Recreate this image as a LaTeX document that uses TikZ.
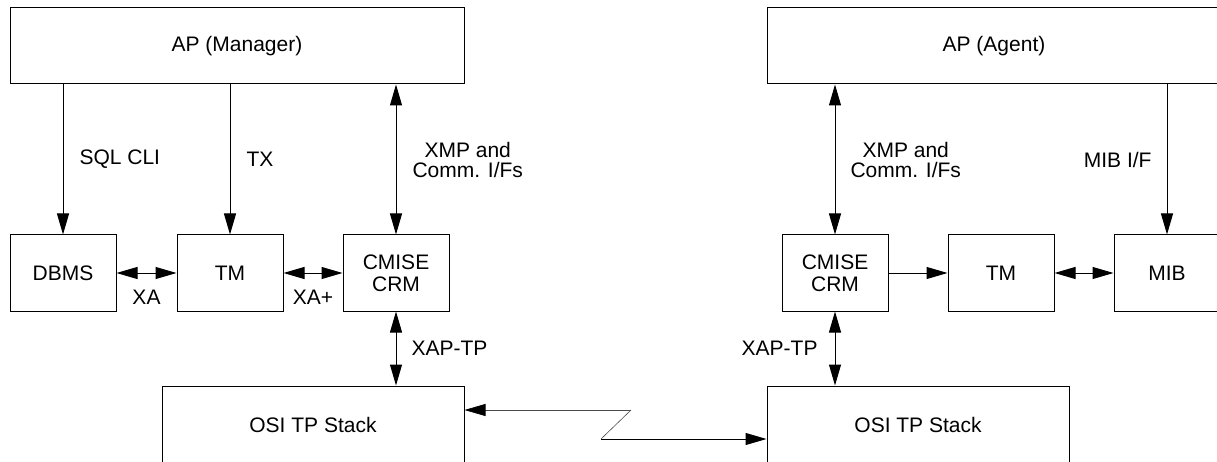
\documentclass[tikz,border=0pt]{standalone}
\usepackage{fontspec}
\setmainfont{Liberation Sans}
\usetikzlibrary{arrows.meta,positioning}

\begin{document}
\begin{tikzpicture}[x=1pt, y=-1pt,
    box/.style={draw, line width=1pt, minimum height=76pt, inner sep=0pt,
        align=center, font=\fontsize{21}{22}\selectfont},
    lbl/.style={inner sep=0pt, align=center, font=\fontsize{21}{20}\selectfont},
    link/.style={line width=1pt, -{Triangle[length=21pt,width=12pt]}},
    both/.style={line width=1pt,
        {Triangle[length=21pt,width=12pt]}-{Triangle[length=21pt,width=12pt]}}]
    % Page frame
    \path[use as bounding box, clip] (0,0) rectangle (1217,462);

    % Application processes
    \node[box, minimum width=454pt] (apm) at (237,46) {AP (Manager)};
    \node[box, minimum width=454pt] (apa) at (994,46) {AP (Agent)};

    % Manager side
    \node[box, minimum width=106pt] (dbms) at (63,273) {DBMS};
    \node[box, minimum width=106pt] (tml) at (230,273) {TM};
    \node[box, minimum width=106pt] (cmisel) at (396,273) {CMISE\\CRM};

    % Agent side
    \node[box, minimum width=106pt] (cmiser) at (835,273) {CMISE\\CRM};
    \node[box, minimum width=106pt] (tmr) at (1001,273) {TM};
    \node[box, minimum width=106pt] (mib) at (1167,273) {MIB};

    % Stacks
    \node[box, minimum width=302pt, minimum height=78pt] (osil) at (313,425) {OSI TP Stack};
    \node[box, minimum width=302pt, minimum height=78pt] (osir) at (918,425) {OSI TP Stack};

    % Interfaces from the APs
    \draw[link] (dbms.north |- apm.south) -- (dbms.north)
        node[lbl, midway, anchor=west, xshift=16pt] {SQL CLI};
    \draw[link] (tml.north |- apm.south) -- (tml.north)
        node[lbl, midway, anchor=west, xshift=16pt] {TX};
    \draw[both] (cmisel.north |- apm.south) -- (cmisel.north)
        node[lbl, midway, anchor=west, xshift=16pt] {XMP and\\Comm. I/Fs};
    \draw[both] (cmiser.north |- apa.south) -- (cmiser.north)
        node[lbl, midway, anchor=west, xshift=15pt] {XMP and\\Comm. I/Fs};
    \draw[link] (mib.north |- apa.south) -- (mib.north)
        node[lbl, midway, anchor=east, xshift=-15pt] {MIB I/F};

    % Horizontal interfaces
    \draw[both] (dbms) -- (tml) node[lbl, midway, anchor=north, yshift=-17pt] {XA};
    \draw[both] (tml) -- (cmisel) node[lbl, midway, anchor=north, yshift=-17pt] {XA+};
    \draw[link] (cmiser) -- (tmr);
    \draw[both] (tmr) -- (mib);

    % XAP-TP
    \draw[both] (cmisel) -- (cmisel |- osil.north)
        node[lbl, midway, anchor=west, xshift=15pt] {XAP-TP};
    \draw[both] (cmiser) -- (cmiser |- osir.north)
        node[lbl, midway, anchor=east, xshift=-17pt] {XAP-TP};

    % Network link
    \coordinate (zza) at (631,410);
    \coordinate (zzb) at (601,439);
    \draw[line width=0.6pt, black!70, -{Triangle[length=21pt,width=12pt,color=black]}]
        (zza) -- (zza -| osil.east);
    \draw[line width=0.6pt, black!70] (zza) -- (zzb);
    \draw[link] (zzb) -- (zzb -| osir.west);
\end{tikzpicture}
\end{document}
